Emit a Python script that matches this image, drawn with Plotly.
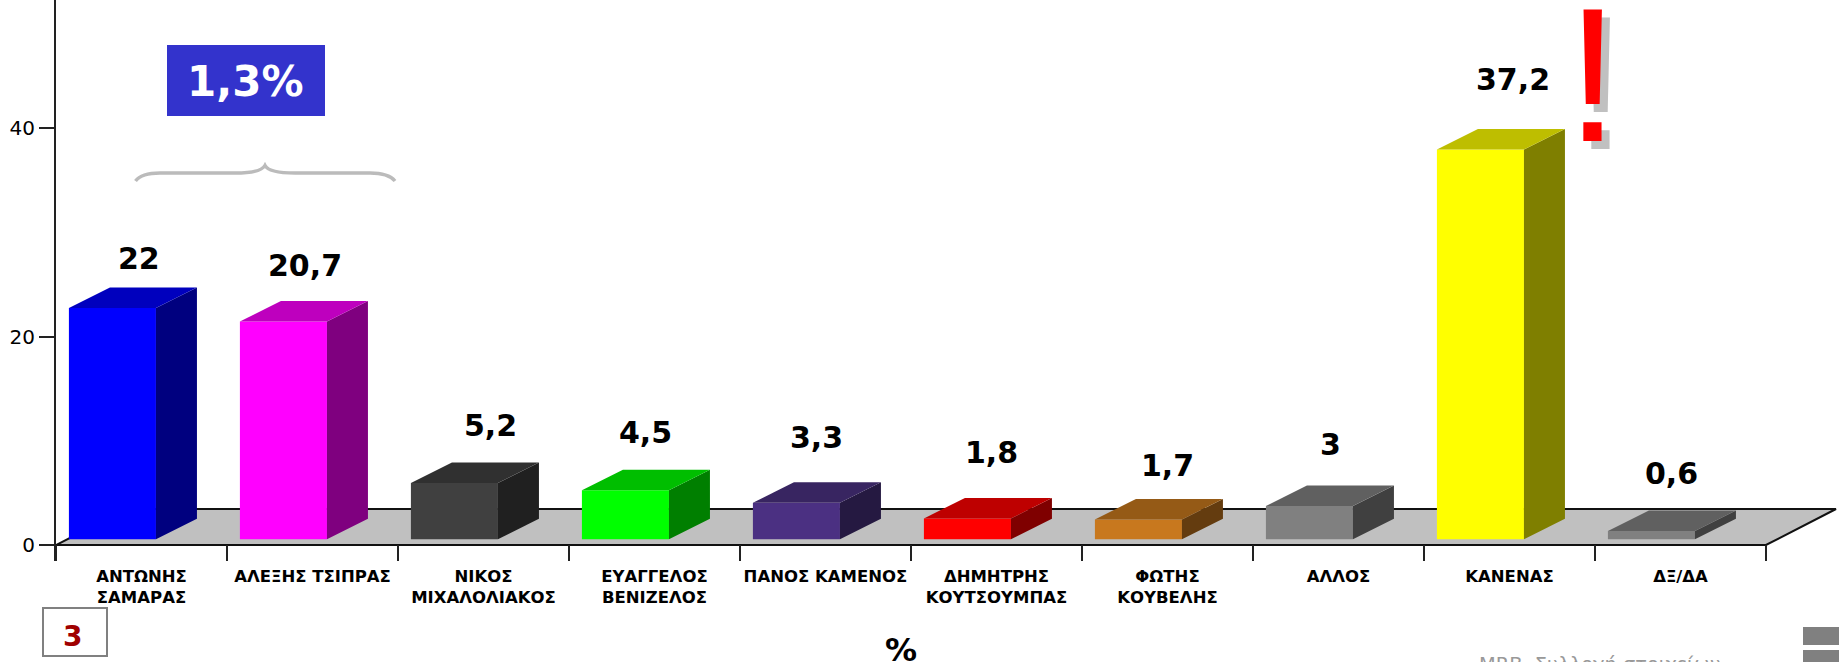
import plotly.graph_objects as go

# ---------- data ----------
categories = ["ΑΝΤΩΝΗΣ<br>ΣΑΜΑΡΑΣ", "ΑΛΕΞΗΣ ΤΣΙΠΡΑΣ", "ΝΙΚΟΣ<br>ΜΙΧΑΛΟΛΙΑΚΟΣ", "ΕΥΑΓΓΕΛΟΣ<br>ΒΕΝΙΖΕΛΟΣ",
              "ΠΑΝΟΣ ΚΑΜΕΝΟΣ", "ΔΗΜΗΤΡΗΣ<br>ΚΟΥΤΣΟΥΜΠΑΣ", "ΦΩΤΗΣ<br>ΚΟΥΒΕΛΗΣ", "ΑΛΛΟΣ", "ΚΑΝΕΝΑΣ", "ΔΞ/ΔΑ"]
values = [22, 20.7, 5.2, 4.5, 3.3, 1.8, 1.7, 3, 37.2, 0.6]
front_colors = ["#0000FF", "#FF00FF", "#404040", "#00FF00", "#4B3082", "#FF0000", "#C8781E", "#808080", "#FFFF00", "#808080"]
top_colors = ["#0000BE", "#BE00BE", "#303030", "#00BE00", "#382561", "#BE0000", "#955A16", "#606060", "#BEBE00", "#606060"]
side_colors = ["#00007F", "#7F007F", "#202020", "#007F00", "#251941", "#7F0000", "#643C0F", "#404040", "#7F7F00", "#404040"]
y_ticks = [0, 20, 40]

# ---------- layout constants ----------
W, H = 1839, 662
LEFT, BOTTOM = 56, 561      # plot area left / bottom, in page pixels
ZERO_PX, UNIT_PX, CAT_PX = 545, 10.42, 171
label_dx = [-3, -8, 7, -9, -9, -5, 0, -8, 3, -9]
label_dy = [57, 64, 65, 66, 73, 74, 62, 69, 78, 65]

y_min = (ZERO_PX - BOTTOM) / UNIT_PX
y_max = ZERO_PX / UNIT_PX
x_min = -0.5
x_max = (W - LEFT) / CAT_PX - 0.5
bar_off, bar_w = -0.17, 0.509
bar_base, bar_lift = 0.55, 0.2
depth_x, depth_y = 41 / CAT_PX, 20.5 / UNIT_PX
floor_x, floor_y = 70 / CAT_PX, 36 / UNIT_PX
n = len(values)


def px(x):
    return (x - LEFT) / (W - LEFT)


def py(y):
    return 1 - y / BOTTOM


fig = go.Figure()
fig.add_trace(go.Bar(
    x=[i + bar_off for i in range(n)],
    y=[v + bar_lift for v in values],
    base=bar_base, width=bar_w,
    marker=dict(color=front_colors, line=dict(width=0)),
    hoverinfo="skip", showlegend=False))

for i, v in enumerate(values):
    l = i + bar_off - bar_w / 2
    r = i + bar_off + bar_w / 2
    t = v + bar_lift + bar_base
    fig.add_trace(go.Scatter(
        x=[r, r + depth_x, r + depth_x, r, r],
        y=[bar_base, bar_base + depth_y, t + depth_y, t, bar_base],
        mode="lines", fill="toself", fillcolor=side_colors[i], line=dict(width=0),
        hoverinfo="skip", showlegend=False))
    fig.add_trace(go.Scatter(
        x=[l, r, r + depth_x, l + depth_x, l],
        y=[t, t, t + depth_y, t + depth_y, t],
        mode="lines", fill="toself", fillcolor=top_colors[i], line=dict(width=0),
        hoverinfo="skip", showlegend=False))

shapes = [dict(
    type="path", xref="x", yref="y", layer="below",
    path=f"M {x_min},0 L {n + x_min},0 L {n + x_min + floor_x},{floor_y} L {x_min + floor_x},{floor_y} Z",
    fillcolor="#C0C0C0", line=dict(color="#111111", width=2))]


def page_rect(x0, y0, x1, y1, **kw):
    return dict(type="rect", xref="paper", yref="paper", x0=px(x0), x1=px(x1), y0=py(y1), y1=py(y0), **kw)


shapes += [
    page_rect(167, 45, 325, 116, fillcolor="#3333CC", line=dict(width=0)),
    page_rect(43, 608, 107, 656, fillcolor="white", line=dict(color="#808080", width=2)),
    page_rect(1803, 627, 1845, 645, fillcolor="#808080", line=dict(width=0)),
    page_rect(1803, 650, 1845, 670, fillcolor="#808080", line=dict(width=0)),
]
brace = [("M", [(135.5, 181)]), ("C", [(140, 175), (148, 173), (160, 173)]), ("L", [(235, 173)]),
         ("C", [(250, 173), (262, 171), (265, 165.5)]), ("C", [(268, 171), (280, 173), (295, 173)]),
         ("L", [(370, 173)]), ("C", [(382, 173), (390, 175), (395, 181)])]
brace_path = " ".join(c + " " + " ".join(f"{px(a):.5f},{py(b):.5f}" for a, b in pts) for c, pts in brace)
shapes.append(dict(type="path", xref="paper", yref="paper", path=brace_path,
                   line=dict(color="#BBBBBB", width=3.5)))


def page_text(text, x, y, size, color="black", weight="bold", family="DejaVu Sans"):
    return dict(text=text, xref="paper", yref="paper", x=px(x), y=py(y), showarrow=False,
                xanchor="center", yanchor="middle",
                font=dict(size=size, color=color, family=family, weight=weight))


annotations = []
for i, v in enumerate(values):
    annotations.append(dict(
        text=str(v).replace(".", ","), x=i, y=v, xref="x", yref="y", showarrow=False,
        xshift=label_dx[i], yshift=label_dy[i], xanchor="center", yanchor="middle",
        font=dict(size=30, color="black", family="DejaVu Sans", weight="bold")))
annotations += [
    page_text("1,3%", 245, 81, 42, color="white"),
    page_text("3", 72, 636, 28, color="#A00000"),
    page_text("%", 901, 650, 32),
    page_text("MRB. Συλλογή στοιχείων", 1600, 664, 19.4, color="#999999", weight="normal"),
    page_text("!", 1600, 82, 192, color="#C0C0C0", weight="normal", family="Liberation Sans"),
    page_text("!", 1592, 75, 192, color="#FF0000", weight="normal", family="Liberation Sans"),
]

fig.update_layout(
    width=W, height=H, autosize=False,
    margin=dict(l=LEFT, r=0, t=0, b=H - BOTTOM, pad=0),
    paper_bgcolor="white", plot_bgcolor="white",
    showlegend=False, barmode="overlay",
    shapes=shapes, annotations=annotations,
    font=dict(family="DejaVu Sans"),
    xaxis=dict(
        range=[x_min, x_max], showgrid=False, zeroline=False, showline=False,
        tickmode="array", tickvals=list(range(n)), ticktext=categories, ticks="", tickangle=0,
        ticklabelstandoff=3,
        tickfont=dict(size=16.5, color="black", family="DejaVu Sans", weight="bold"),
        minor=dict(tickmode="array", tickvals=[i + x_min for i in range(n + 1)],
                   ticks="inside", ticklen=16, tickwidth=2, tickcolor="#222222", showgrid=False),
    ),
    yaxis=dict(
        range=[y_min, y_max], showgrid=False, zeroline=False, showline=True,
        linecolor="#222222", linewidth=2,
        tickmode="array", tickvals=y_ticks, ticks="outside", ticklen=15, tickwidth=2, tickcolor="#222222",
        tickfont=dict(size=20, color="black", family="DejaVu Sans"),
    ),
)

fig.write_html("out.html", config=dict(displayModeBar=False),
               post_script="document.body.style.margin='0';document.body.style.overflow='hidden';")
